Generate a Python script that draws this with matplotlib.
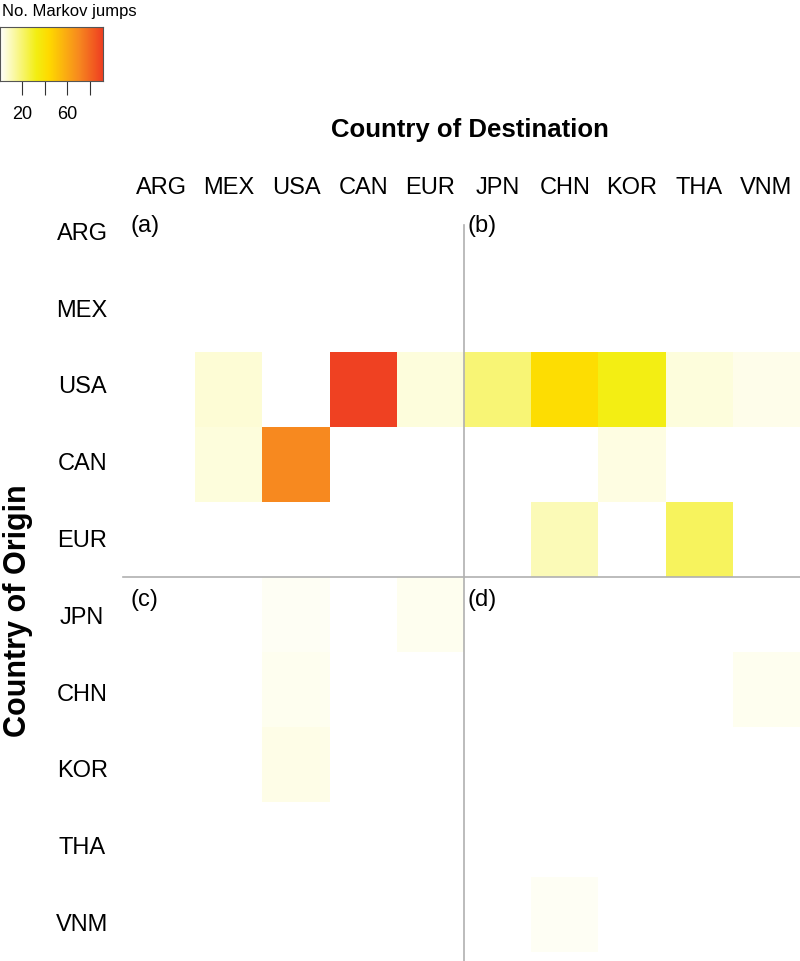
import numpy as np
import matplotlib
matplotlib.use('Agg')
import matplotlib.pyplot as plt
from matplotlib.colors import LinearSegmentedColormap

plt.rcParams['font.family'] = ['Liberation Sans', 'DejaVu Sans']

# countries (origin rows, destination columns)
countries = ['ARG', 'MEX', 'USA', 'CAN', 'EUR', 'JPN', 'CHN', 'KOR', 'THA', 'VNM']

# number of Markov jumps, rows = origin, cols = destination
jumps = np.array([
    # ARG  MEX  USA  CAN  EUR  JPN  CHN  KOR  THA  VNM
    [0.0, 0.3, 0.3, 0.3, 0.3, 0.3, 0.3, 0.3, 0.3, 0.3],   # ARG
    [0.3, 0.0, 0.3, 0.3, 0.3, 0.3, 0.3, 0.3, 0.3, 0.3],   # MEX
    [0.3, 6.0, 0.0, 90.0, 5.0, 19.0, 42.0, 32.0, 5.0, 3.0],  # USA
    [0.3, 5.0, 70.0, 0.0, 0.3, 0.3, 0.3, 4.0, 0.3, 0.3],  # CAN
    [0.3, 0.3, 0.3, 0.3, 0.0, 0.3, 10.0, 0.0, 22.0, 0.3],  # EUR
    [0.3, 0.3, 1.5, 0.3, 2.5, 0.0, 0.3, 0.3, 0.3, 0.3],   # JPN
    [0.3, 0.3, 2.5, 0.3, 0.3, 0.3, 0.0, 0.3, 0.3, 2.5],   # CHN
    [0.3, 0.3, 3.5, 0.3, 0.3, 0.3, 0.3, 0.0, 0.3, 0.3],   # KOR
    [0.3, 0.3, 0.3, 0.3, 0.3, 0.3, 0.3, 0.3, 0.0, 0.3],   # THA
    [0.3, 0.3, 0.3, 0.3, 0.3, 0.3, 1.5, 0.3, 0.3, 0.0],   # VNM
])
vmax = 92
cbar_ticks = [20, 40, 60, 80]
cbar_labels = ['20', '', '60', '']
panels = ['(a)', '(b)', '(c)', '(d)']

cmap = LinearSegmentedColormap.from_list('jumps', [
    (0.0, '#FFFFFF'),
    (0.35, '#F3EE12'),
    (0.47, '#FFDA00'),
    (0.76, '#F7891F'),
    (1.0, '#EE3B22'),
])

fig = plt.figure(figsize=(8, 9.61), dpi=100)
ax = fig.add_axes([0.16, 0.0094, 0.84, 0.7804])
n = len(countries)
ax.pcolormesh(np.arange(n + 1), np.arange(n + 1), jumps, cmap=cmap,
              vmin=0, vmax=vmax, shading='flat')
ax.set_xlim(0, n)
ax.set_ylim(n, 0)
for s in ax.spines.values():
    s.set_visible(False)
ax.set_xticks(np.arange(n) + 0.5)
ax.set_xticklabels(countries, fontsize=17)
ax.xaxis.tick_top()
# row names are spaced slightly wider than the cells in the original
ax.set_yticks(0.39 + 1.024 * np.arange(n))
ax.set_yticklabels(countries, fontsize=17, ha='center')
ax.tick_params(length=0)
ax.tick_params(axis='x', pad=2)
ax.tick_params(axis='y', pad=33)

fig.text(470 / 800, 1 - 130 / 961, 'Country of Destination', fontsize=18.5,
         fontweight='bold', ha='center', va='center')
fig.text(18 / 800, 1 - 611 / 961, 'Country of Origin', fontsize=22,
         fontweight='bold', ha='center', va='center', rotation=90)

# quadrant separators
ax.plot([5, 5], [0.3, 10.2], color='#b0b0b0', lw=1.2, clip_on=False)
ax.plot([-0.07, 10], [5, 5], color='#b0b0b0', lw=1.2, clip_on=False)

pos = [(0.03, 0.32), (5.05, 0.32), (0.03, 5.31), (5.05, 5.31)]
for lab, (x, y) in zip(panels, pos):
    ax.text(x, y, lab, fontsize=17, ha='left', va='center')

# colour bar
cax = fig.add_axes([0.0, 1 - 81 / 961, 0.129, 54 / 961])
grad = np.linspace(0, vmax, 256)[None, :]
cax.imshow(grad, aspect='auto', cmap=cmap, vmin=0, vmax=vmax,
           extent=[0, vmax, 0, 1])
cax.set_xlim(0, vmax)
cax.set_yticks([])
cax.set_xticks(cbar_ticks)
cax.set_xticklabels(cbar_labels, fontsize=13)
cax.tick_params(axis='x', length=10, width=0.8, pad=8, color='#333333')
for s in cax.spines.values():
    s.set_color('#555555')
    s.set_linewidth(0.8)
fig.text(0.002, 0.996, 'No. Markov jumps', fontsize=12, ha='left', va='top')

fig.savefig('out.png', dpi=100)
